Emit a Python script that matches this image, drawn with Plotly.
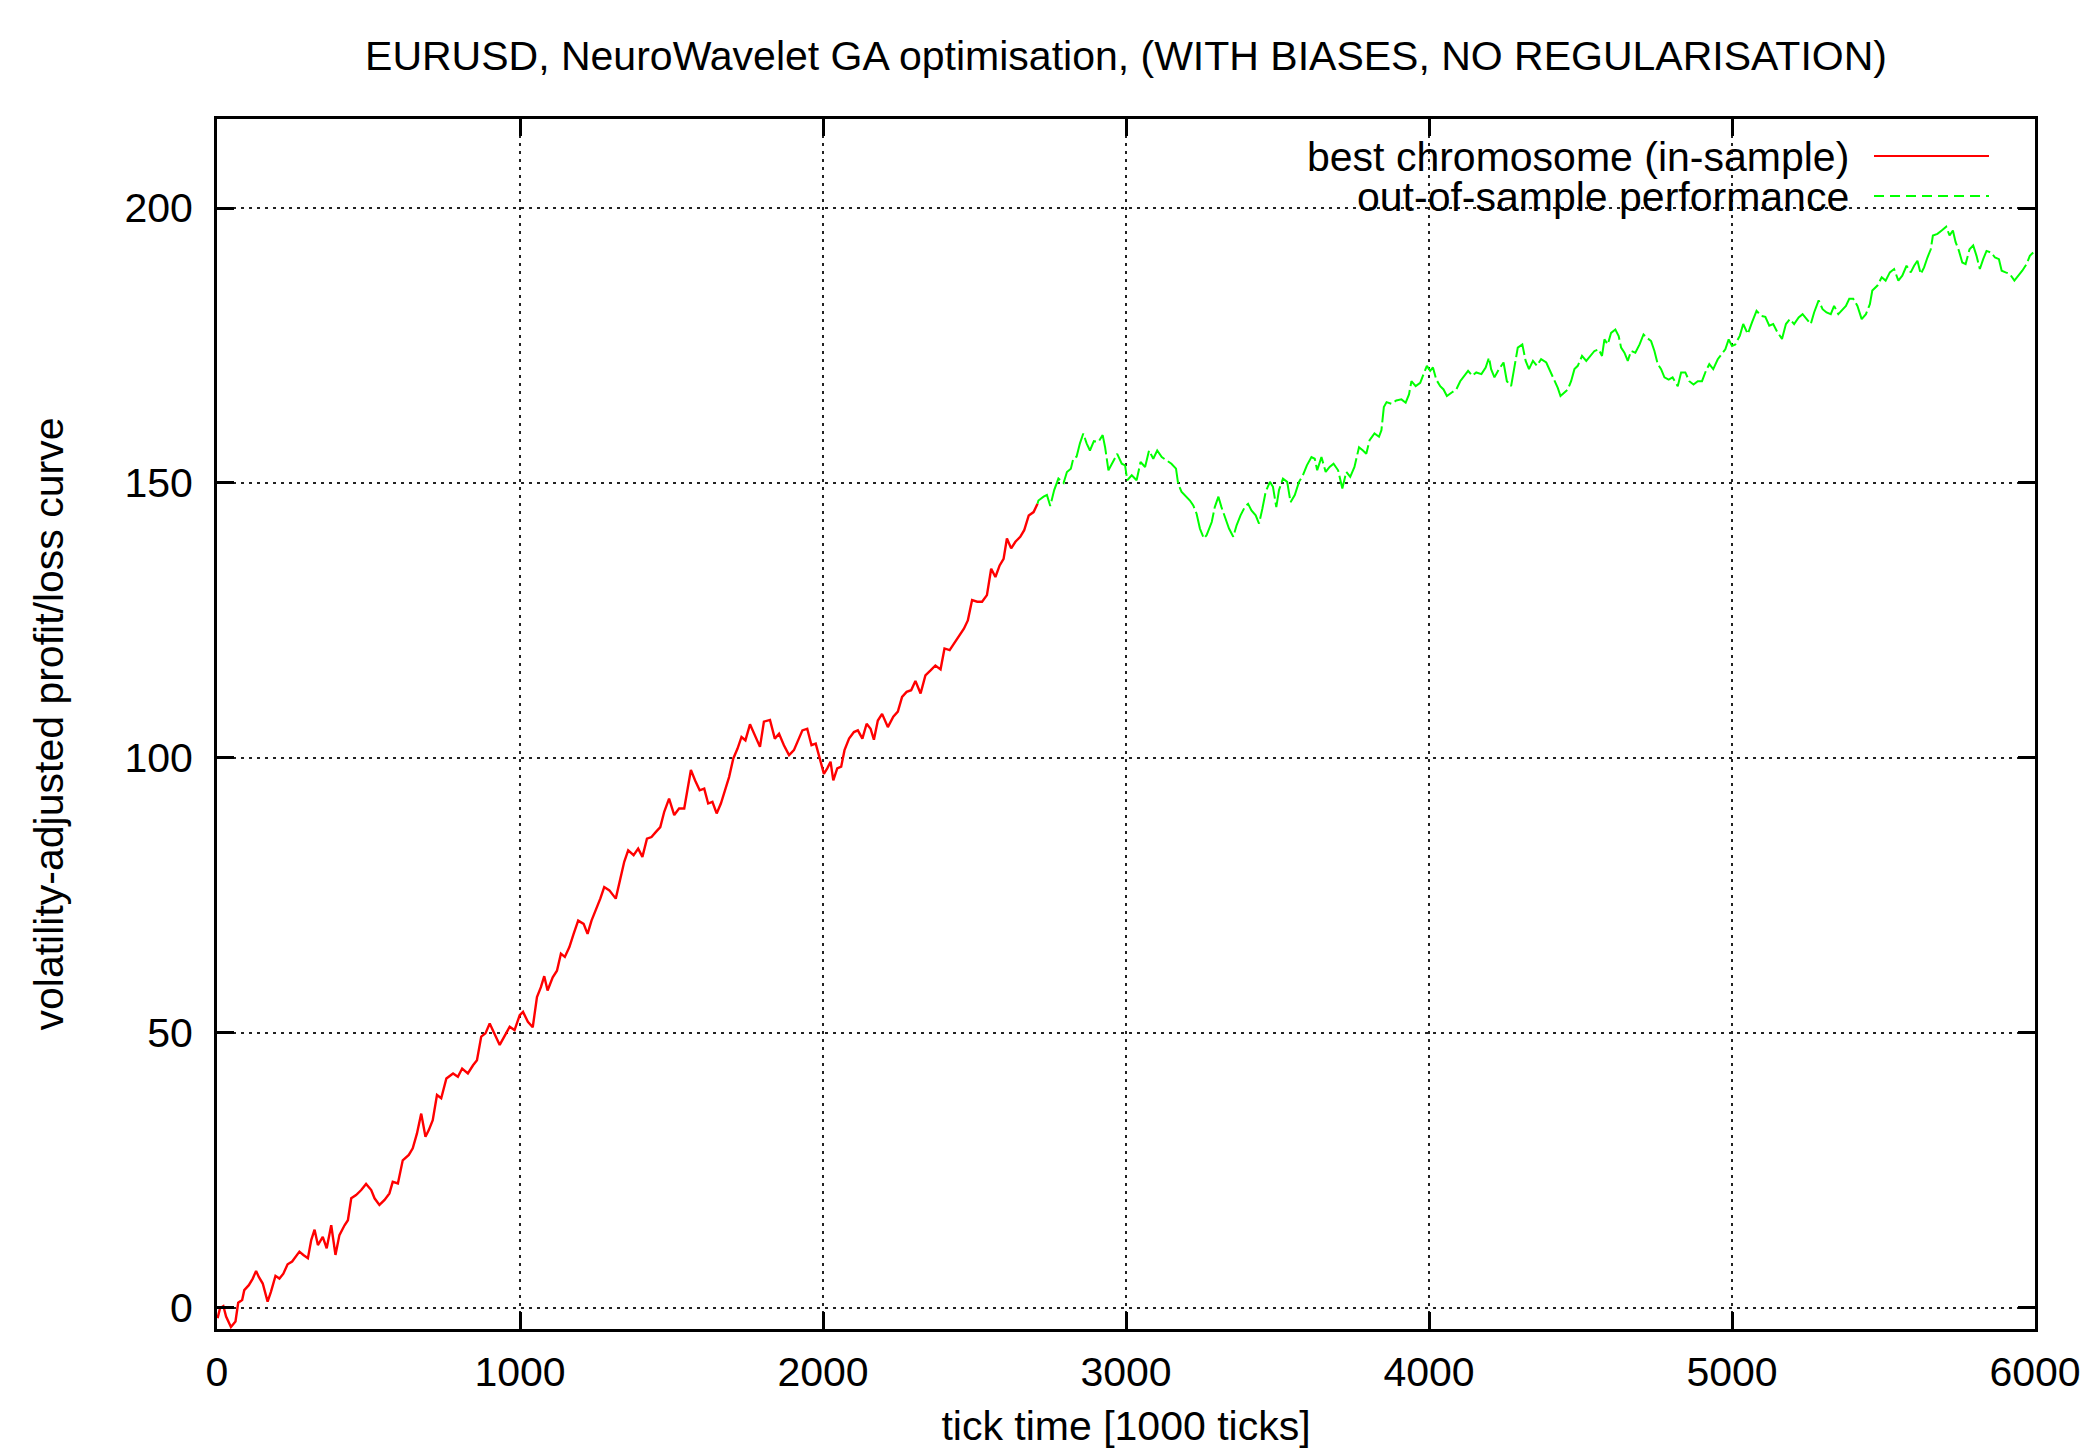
import plotly.graph_objects as go

# ---- data ----
in_sample_x = [2, 10, 21, 30, 46, 61, 70, 83, 90, 105, 118, 129, 138, 151, 167, 178, 193, 206, 219, 233,
               248, 261, 272, 285, 300, 311, 322, 333, 349, 362, 377, 391, 404, 421, 432, 443, 459, 476,
               492, 509, 520, 536, 553, 569, 580, 597, 613, 633, 646, 660, 674, 688, 699, 712, 726, 740,
               757, 779, 795, 809, 828, 845, 858, 872, 886, 900, 916, 933, 949, 966, 982, 999, 1010, 1026,
               1042, 1056, 1069, 1080, 1091, 1108, 1122, 1135, 1148, 1163, 1177, 1192, 1210, 1223, 1236,
               1251, 1265, 1278, 1295, 1316, 1331, 1344, 1357, 1375, 1390, 1404, 1419, 1434, 1448, 1463,
               1476, 1492, 1509, 1525, 1542, 1553, 1564, 1578, 1593, 1608, 1621, 1635, 1649, 1663, 1676,
               1690, 1704, 1718, 1731, 1744, 1759, 1774, 1792, 1805, 1825, 1841, 1855, 1871, 1888, 1904,
               1918, 1932, 1948, 1962, 1976, 1990, 2003, 2014, 2025, 2034, 2047, 2060, 2071, 2086, 2102,
               2115, 2130, 2144, 2157, 2168, 2181, 2195, 2214, 2232, 2247, 2261, 2276, 2291, 2305, 2322,
               2338, 2355, 2371, 2388, 2401, 2418, 2432, 2448, 2465, 2478, 2492, 2509, 2525, 2541, 2555,
               2569, 2583, 2596, 2607, 2621, 2635, 2651, 2664, 2679, 2695, 2708]
in_sample_y = [-1.9, -0.1, 0.3, -1.6, -3.5, -2.5, 0.9, 1.4, 3.2, 4.1, 5.3, 6.7, 5.6, 4.4, 1.1, 2.9, 5.8, 5.3,
               6.2, 7.9, 8.4, 9.3, 10.2, 9.6, 9.0, 12.3, 14.2, 11.4, 12.9, 10.8, 15.0, 9.6, 13.2, 15.0,
               15.9, 19.9, 20.5, 21.4, 22.5, 21.4, 19.9, 18.7, 19.6, 20.8, 22.9, 22.6, 26.8, 27.8, 29.0,
               31.7, 35.3, 31.1, 32.3, 34.1, 38.7, 38.1, 41.7, 42.6, 42.0, 43.5, 42.6, 44.1, 45.0, 49.3,
               49.9, 51.7, 49.9, 47.8, 49.4, 51.1, 50.5, 53.2, 53.8, 52.0,
               51.0, 56.5, 58.3, 60.3, 57.7, 60.1, 61.3, 64.4, 63.8, 65.6, 68.0, 70.4, 69.8, 68.0, 70.4,
               72.3, 74.4, 76.5, 75.9, 74.4, 77.7, 81.1, 83.2, 82.3, 83.5, 82.0, 85.3, 85.6, 86.5, 87.4,
               90.2, 92.6, 89.6, 90.8, 90.8, 94.7, 97.8, 95.9, 94.1, 94.4, 91.7, 92.0, 89.9, 91.7, 94.1,
               96.5, 99.9, 101.7, 103.8, 103.2, 106.1, 104.1, 102.0, 106.6, 106.9, 103.5, 104.4, 102.3,
               100.5, 101.4, 103.2, 105.0, 105.3, 102.3, 102.6, 99.6, 97.1, 98.1, 99.3, 95.9, 98.1, 98.4,
               101.4, 103.5, 104.7, 105.0, 103.5, 106.2, 105.3, 103.3, 106.8, 108.0, 105.6, 107.5, 108.4,
               111.1, 112.0, 112.3, 114.0, 111.7, 115.0, 115.9, 116.8, 116.1, 119.9, 119.6, 120.8, 122.0,
               123.5, 125.0, 128.7, 128.4, 128.4, 129.6, 134.4, 132.9, 135.0, 136.2, 139.9, 138.1, 139.3,
               140.2, 141.4, 144.1, 144.7, 146.2]

out_sample_x = [2708, 2711, 2728, 2739, 2750, 2763, 2777, 2794, 2805, 2818, 2826, 2837, 2848, 2859, 2870,
                2881, 2894, 2909, 2923, 2931, 2942, 2956, 2971, 2986, 2997, 3004, 3019, 3035, 3048, 3063,
                3076, 3090, 3103, 3118, 3134, 3150, 3165, 3172, 3183, 3198, 3211, 3222, 3233, 3244, 3257,
                3266, 3283, 3293, 3305, 3315, 3326, 3340, 3354, 3365, 3378, 3392, 3403, 3414, 3428, 3439,
                3450, 3461, 3475, 3485, 3496, 3505, 3518, 3532, 3543, 3557, 3571, 3584, 3597, 3612, 3623,
                3631, 3645, 3659, 3672, 3685, 3700, 3714, 3727, 3740, 3754, 3769, 3782, 3793, 3804, 3820,
                3835, 3843, 3851, 3860, 3876, 3892, 3909, 3923, 3934, 3942, 3956, 3971, 3982, 3993, 4004,
                4013, 4024, 4037, 4048, 4059, 4074, 4090, 4103, 4118, 4129, 4143, 4156, 4173, 4187, 4198,
                4205, 4216, 4231, 4246, 4257, 4271, 4282, 4293, 4308, 4319, 4330, 4343, 4356, 4370, 4387,
                4400, 4414, 4425, 4434, 4447, 4458, 4469, 4480, 4491, 4505, 4519, 4532, 4546, 4560, 4571,
                4579, 4590, 4601, 4615, 4626, 4634, 4645, 4656, 4667, 4681, 4695, 4708, 4719, 4733, 4744,
                4755, 4766, 4777, 4791, 4804, 4821, 4832, 4846, 4859, 4873, 4887, 4901, 4914, 4925, 4938,
                4953, 4967, 4978, 4989, 5000, 5011, 5026, 5037, 5052, 5066, 5081, 5096, 5110, 5123, 5136,
                5150, 5165, 5178, 5191, 5205, 5220, 5233, 5246, 5260, 5271, 5286, 5299, 5312, 5326, 5337,
                5351, 5365, 5376, 5387, 5400, 5414, 5428, 5442, 5455, 5463, 5480, 5494, 5507, 5521, 5535,
                5549, 5562, 5576, 5590, 5601, 5612, 5623, 5634, 5645, 5656, 5663, 5678, 5692, 5707, 5718,
                5729, 5738, 5749, 5760, 5771, 5784, 5796, 5807, 5818, 5829, 5840, 5855, 5868, 5881, 5890,
                5903, 5917, 5932, 5945, 5958, 5972, 5983, 5994]
out_sample_y = [146.2, 146.8, 147.5, 147.8, 145.8, 148.7, 150.8, 150.0, 152.0, 152.6, 154.4, 154.8, 157.2,
                159.0, 157.2, 155.9, 157.6, 157.5, 158.7, 156.5, 152.3, 153.8, 155.3, 153.5, 153.2, 150.5,
                151.4, 150.5, 153.8, 152.9, 155.9, 154.4, 155.9, 154.7, 154.1, 153.5, 152.6, 149.9, 148.4,
                147.5, 146.8, 145.9, 144.4, 141.7, 139.9, 140.5, 142.9, 145.6, 147.5, 145.6, 143.8, 141.7,
                140.2, 142.3, 144.1, 145.6, 146.2, 145.0, 144.1, 142.6, 145.3, 148.4, 150.2, 149.3, 145.6,
                148.7, 150.8, 150.2, 146.5, 147.8, 150.2, 151.4, 153.2, 154.7, 154.4, 152.3, 154.7, 152.0,
                152.9, 153.5, 152.3, 149.0, 152.0, 151.1, 152.9, 156.5, 155.9, 155.3, 157.8, 159.0, 158.4,
                159.6, 163.8, 164.7, 164.4, 165.0, 165.2, 164.6, 166.1, 168.5, 167.6, 168.2, 169.8, 171.3,
                170.4, 171.0, 168.8, 167.6, 167.0, 165.8, 166.4, 167.0, 168.5, 169.5, 170.4, 169.5, 170.1,
                169.8, 171.0, 172.8, 170.7, 169.2, 170.7, 171.9, 168.5, 167.6, 171.0, 174.6, 175.2, 172.2,
                170.7, 172.2, 171.3, 172.5, 171.9, 170.4, 168.8, 167.3, 165.8, 166.4, 167.0, 168.5, 170.7,
                171.3, 173.1, 172.2, 173.1, 174.0, 174.3, 173.1, 176.1, 175.2, 177.3, 177.9, 176.7, 174.6,
                173.7, 172.2, 174.0, 173.7, 175.2, 177.0, 176.4, 175.8, 174.0, 171.6, 170.7, 169.2, 168.8,
                169.2, 167.6, 170.1, 170.1, 168.5, 167.9, 168.5, 168.5, 170.4, 171.6, 170.7, 172.5, 173.4,
                174.3, 176.1, 174.9, 175.2, 176.8, 178.9, 177.1, 179.2, 181.3, 180.4, 180.2, 178.6, 178.9,
                177.4, 176.2, 178.9, 179.8, 178.9, 180.1, 180.7, 179.8, 178.9, 181.0, 183.2, 181.6, 181.0,
                180.7, 182.2, 180.7, 181.6, 182.2, 183.5, 183.5, 182.2, 179.8, 180.7, 182.5, 185.0, 185.9,
                187.4, 186.8, 188.3, 188.9, 186.8, 187.7, 189.5, 188.3, 189.5, 190.4, 188.0, 189.2, 191.0,
                192.5, 195.0, 195.3, 195.9, 196.6, 195.0, 195.9, 193.8, 192.2, 190.1, 189.8, 192.5, 193.2,
                191.3, 188.9, 190.7, 192.2, 191.9, 191.0, 190.7, 188.6, 188.3, 188.0, 186.8, 187.7, 188.6,
                189.8, 191.3, 191.9]

x_ticks = [0, 1000, 2000, 3000, 4000, 5000, 6000]
y_ticks = [0, 50, 100, 150, 200]
series_names = ["best chromosome (in-sample)", "out-of-sample performance"]
title_text = "EURUSD, NeuroWavelet GA optimisation, (WITH BIASES, NO REGULARISATION)"
x_title = "tick time [1000 ticks]"
y_title = "volatility-adjusted profit/loss curve"

FONT = "Liberation Sans, Arial, Helvetica, sans-serif"
FS = 41
W, H = 2088, 1449
L, R, T, B = 217, 53, 119, 120
PW, PH = W - L - R, H - T - B

def px_x(p):
    return (p - L) / PW

def px_y(p):
    return (H - B - p) / PH

fig = go.Figure()
fig.add_trace(go.Scatter(x=in_sample_x, y=in_sample_y, mode="lines", name=series_names[0],
                         line=dict(color="#ff0000", width=2.4), showlegend=False))
fig.add_trace(go.Scatter(x=out_sample_x, y=out_sample_y, mode="lines", name=series_names[1],
                         line=dict(color="#00ff00", width=2.0, dash="26px,4px"), showlegend=False))

axis_common = dict(
    showline=True, linewidth=3, linecolor="black", mirror="allticks",
    ticks="inside", ticklen=17, tickwidth=3, tickcolor="black",
    showgrid=True, gridcolor="#222222", gridwidth=2, griddash="3px,5px",
    zeroline=False, automargin=False,
    tickfont=dict(family=FONT, size=FS, color="black"),
)

fig.update_xaxes(range=[0, 6000], tickvals=x_ticks, ticktext=[str(v) for v in x_ticks],
                 ticklabelstandoff=5,
                 title=dict(text=x_title, font=dict(family=FONT, size=FS, color="black"), standoff=30),
                 **axis_common)
fig.update_yaxes(range=[-3.87, 216.19], tickvals=y_ticks, ticktext=[str(v) for v in y_ticks],
                 ticklabelstandoff=13,
                 title=dict(text=y_title, font=dict(family=FONT, size=FS, color="black"), standoff=49),
                 **axis_common)

# legend drawn gnuplot-style (text, then line sample to the right)
legend_rows = [(157, "#ff0000", None), (197, "#00ff00", "10px,6px")]
for (py, col, dash), name in zip(legend_rows, series_names):
    fig.add_annotation(xref="paper", yref="paper", x=px_x(1851), y=px_y(py), text=name,
                       showarrow=False, xanchor="right", yanchor="middle",
                       font=dict(family=FONT, size=FS, color="black"))
    fig.add_shape(type="line", xref="paper", yref="paper", x0=px_x(1874), x1=px_x(1989),
                  y0=px_y(py - 1), y1=px_y(py - 1),
                  line=dict(color=col, width=2, dash=dash if dash else "solid"))

fig.update_layout(
    width=W, height=H,
    margin=dict(l=L, r=R, t=T, b=B, pad=0, autoexpand=False),
    paper_bgcolor="white", plot_bgcolor="white",
    title=dict(text=title_text, x=0.5, xref="paper", y=1 - 56 / H, yanchor="middle",
               font=dict(family=FONT, size=FS, color="black")),
    font=dict(family=FONT, size=FS, color="black"),
    showlegend=False,
)

fig.write_html("out.html", config={"displayModeBar": False},
               post_script="document.body.style.margin='0';document.body.style.overflow='hidden';")
